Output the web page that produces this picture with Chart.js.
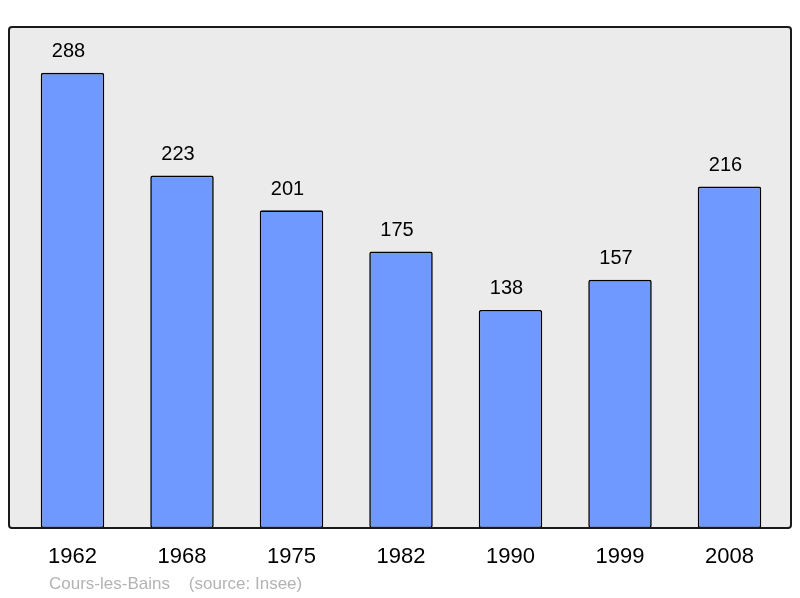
<!DOCTYPE html>
<html>
<head>
<meta charset="utf-8">
<script src="https://cdn.jsdelivr.net/npm/chart.js@4"></script>
<style>
  html, body { margin: 0; padding: 0; background: #fff; }
  #wrap { width: 800px; height: 598px; }
</style>
</head>
<body>
<div id="wrap"><canvas id="pop" width="800" height="598"></canvas></div>
<script>
// population figures
const years = ['1962', '1968', '1975', '1982', '1990', '1999', '2008'];
const population = [288, 223, 201, 175, 138, 157, 216];
const yMax = 317;
const caption = 'Cours-les-Bains    (source: Insee)';

const FONT = '"Liberation Sans", Arial, sans-serif';

// grey frame behind the bars
const frame = {
    id: 'frame',
    beforeDatasetsDraw(chart) {
        const ctx = chart.ctx;
        ctx.save();
        ctx.beginPath();
        ctx.roundRect(9, 27, 782, 501, 3);
        ctx.fillStyle = '#ebebeb';
        ctx.fill();
        ctx.restore();
    },
    afterDatasetsDraw(chart) {
        const ctx = chart.ctx;
        ctx.save();
        ctx.beginPath();
        ctx.roundRect(9, 27, 782, 501, 3);
        ctx.lineWidth = 2;
        ctx.strokeStyle = '#1a1a1a';
        ctx.stroke();
        ctx.restore();
    }
};

// numbers above each bar + the source line
const labels = {
    id: 'labels',
    afterDraw(chart) {
        const ctx = chart.ctx;
        const meta = chart.getDatasetMeta(0);
        ctx.save();
        ctx.font = '20px ' + FONT;
        ctx.fillStyle = '#000';
        ctx.textAlign = 'center';
        ctx.textBaseline = 'middle';
        meta.data.forEach(function(bar, i) {
            ctx.fillText(population[i], bar.x - 4, bar.y - 21);
        });
        ctx.font = '17px ' + FONT;
        ctx.fillStyle = '#b3b3b3';
        ctx.textAlign = 'left';
        ctx.fillText(caption, 49, 584);
        ctx.restore();
    }
};

new Chart(document.getElementById('pop'), {
    type: 'bar',
    data: {
        labels: years,
        datasets: [{
            data: population,
            backgroundColor: '#7099ff',
            borderColor: '#000',
            borderWidth: 1.6,
            borderRadius: 2,
            borderSkipped: false,
            barPercentage: 0.58,
            categoryPercentage: 1
        }]
    },
    options: {
        responsive: false,
        animation: false,
        layout: { padding: { left: 17.75, right: 15.75, top: 27, bottom: 0 } },
        plugins: { legend: { display: false }, tooltip: { enabled: false } },
        scales: {
            x: {
                grid: { display: false, drawTicks: false },
                border: { display: false },
                ticks: { color: '#000', font: { family: FONT, size: 22 }, padding: 16, maxRotation: 0 },
                afterFit(scale) { scale.height = 70; }
            },
            y: {
                display: false,
                min: 0,
                max: yMax
            }
        }
    },
    plugins: [frame, labels]
});
</script>
</body>
</html>
